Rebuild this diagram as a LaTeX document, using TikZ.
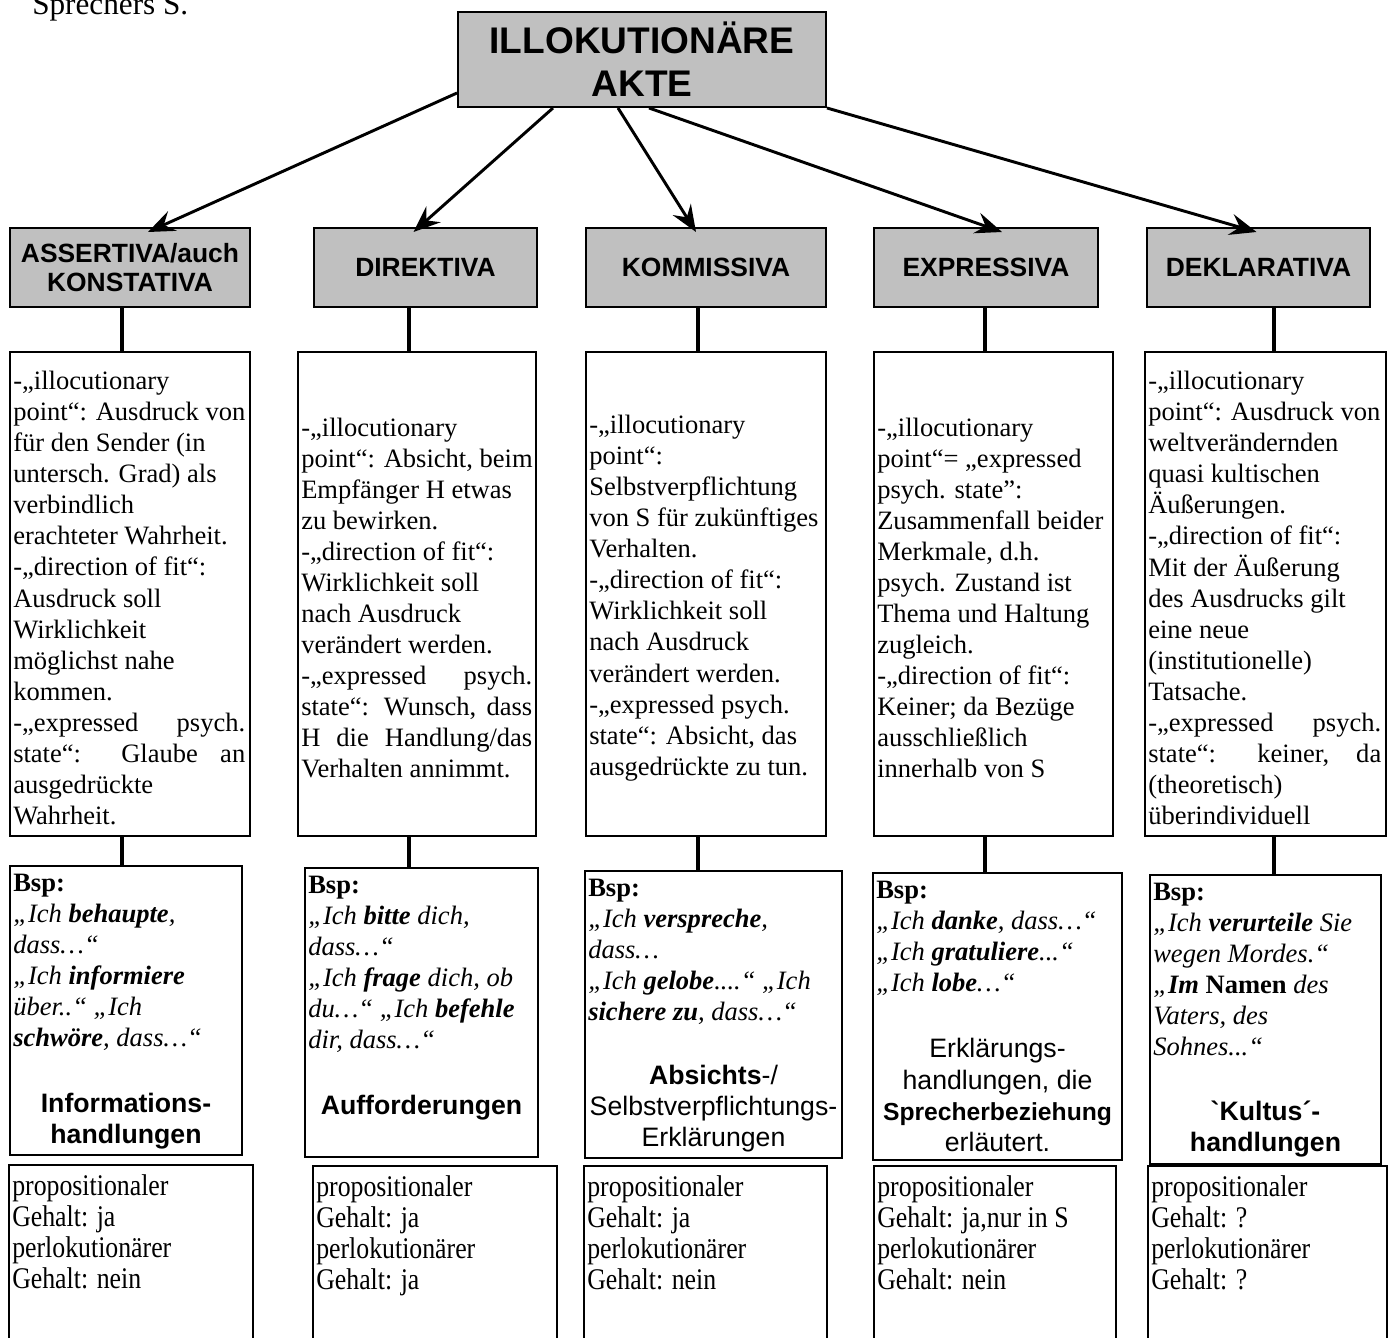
\documentclass[tikz,border=0pt]{standalone}
\usepackage{fontspec}
\setmainfont{Liberation Serif}
\newfontfamily\arial{Liberation Sans}
\newfontfamily\schmal[FakeStretch=0.86]{Liberation Serif}
\usetikzlibrary{arrows.meta,calc}
\definecolor{kastengrau}{RGB}{192,192,192}
\newcommand{\blocksatz}[2]{\makebox[#1][s]{#2}}

\begin{document}
\begin{tikzpicture}[x=0.75pt,y=-0.75pt,>={Stealth[length=20pt,width=16pt,inset=7pt]},line join=miter,
	kopf/.style={draw,line width=1.5pt,fill=kastengrau,align=center,inner sep=0pt,font=\arial\bfseries\fontsize{19.8}{21.8}\selectfont},
	feld/.style={draw,line width=1.5pt,fill=white,inner sep=0pt},
	fliess/.style={inner sep=0pt,align=left,font=\fontsize{19.9}{23.3}\selectfont},
	bsp/.style={inner sep=0pt,align=left,font=\fontsize{19.9}{23.3}\selectfont\itshape},
	gehalt/.style={inner sep=0pt,align=left,font=\schmal\fontsize{22.5}{23.3}\selectfont},
	typ/.style={inner sep=0pt,align=center,font=\arial\fontsize{20}{23.3}\selectfont},
	typfett/.style={typ,font=\arial\bfseries\fontsize{20}{23.3}\selectfont},
	pfeil/.style={->,line width=2.2pt},
	strich/.style={line width=2.4pt}]
	\useasboundingbox (0,0) rectangle (1396,1338);
	\clip (0,0) rectangle (1396,1338);
	\node[anchor=base west,inner sep=0pt,font=\fontsize{23.4}{28}\selectfont] (rest) at (32,15) {Sprechers S.};
	% Oberbegriff und Klassen
	\node[kopf,minimum width=276pt,minimum height=71.25pt,font=\arial\bfseries\fontsize{27.8}{32.3}\selectfont] (akte) at (642,59.5) {ILLOKUTIONÄRE\\AKTE};
	\node[kopf,minimum width=180pt,minimum height=59.25pt] (k1) at (130,267.5) {ASSERTIVA/auch\\KONSTATIVA};
	\node[kopf,minimum width=167.25pt,minimum height=59.25pt] (k2) at (425.5,267.5) {DIREKTIVA};
	\node[kopf,minimum width=180pt,minimum height=59.25pt] (k3) at (706,267.5) {KOMMISSIVA};
	\node[kopf,minimum width=168pt,minimum height=59.25pt] (k4) at (986,267.5) {EXPRESSIVA};
	\node[kopf,minimum width=167.25pt,minimum height=59.25pt] (k5) at (1258.5,267.5) {DEKLARATIVA};
	\draw[pfeil] ($(akte.west)+(0,33.5)$) -- ($(k1.north)+(18,5)$);
	\draw[pfeil] ($(akte.south)+(-89,0)$) -- ($(k2.north)+(-12,5)$);
	\draw[pfeil] ($(akte.south)+(-24,0)$) -- ($(k3.north)+(-10,5)$);
	\draw[pfeil] ($(akte.south)+(7,0)$) -- ($(k4.north)+(16,5)$);
	\draw[pfeil] (akte.south east) -- ($(k5.north)+(-2,5)$);
	% Merkmale
	\node[feld,minimum width=180pt,minimum height=363pt] (m1) at (130,594) {};
	\node[feld,minimum width=178.5pt,minimum height=363pt] (m2) at (417,594) {};
	\node[feld,minimum width=180pt,minimum height=363pt] (m3) at (706,594) {};
	\node[feld,minimum width=179.25pt,minimum height=363pt] (m4) at (993.5,594) {};
	\node[feld,minimum width=180.75pt,minimum height=363pt] (m5) at (1265.5,594) {};
	\node[fliess,anchor=west] (n1) at ($(m1.west)+(4,4)$) {-„illocutionary\\point“: Ausdruck von\\für den Sender (in\\untersch. Grad) als\\verbindlich\\erachteter Wahrheit.\\-„direction of fit“:\\Ausdruck soll\\Wirklichkeit\\möglichst nahe\\kommen.\\\blocksatz{174pt}{-„expressed psych.}\\\blocksatz{174pt}{state“: Glaube an}\\ausgedrückte\\Wahrheit.};
	\node[fliess,anchor=west] (n2) at ($(m2.west)+(4,4)$) {-„illocutionary\\point“: Absicht, beim\\Empfänger H etwas\\zu bewirken.\\-„direction of fit“:\\Wirklichkeit soll\\nach Ausdruck\\verändert werden.\\\blocksatz{173.25pt}{-„expressed psych.}\\\blocksatz{173.25pt}{state“: Wunsch, dass}\\\blocksatz{173.25pt}{H die Handlung/das}\\Verhalten annimmt.};
	\node[fliess,anchor=west] (n3) at ($(m3.west)+(4,4)$) {-„illocutionary\\point“:\\Selbstverpflichtung\\von S für zukünftiges\\Verhalten.\\-„direction of fit“:\\Wirklichkeit soll\\nach Ausdruck\\verändert werden.\\-„expressed psych.\\state“: Absicht, das\\ausgedrückte zu tun.};
	\node[fliess,anchor=west] (n4) at ($(m4.west)+(4,4)$) {-„illocutionary\\point“= „expressed\\psych. state”:\\Zusammenfall beider\\Merkmale, d.h.\\psych. Zustand ist\\Thema und Haltung\\zugleich.\\-„direction of fit“:\\Keiner; da Bezüge\\ausschließlich\\innerhalb von S};
	\node[fliess,anchor=west] (n5) at ($(m5.west)+(4,4)$) {-„illocutionary\\point“: Ausdruck von\\weltverändernden\\quasi kultischen\\Äußerungen.\\-„direction of fit“:\\Mit der Äußerung\\des Ausdrucks gilt\\eine neue\\(institutionelle)\\Tatsache.\\\blocksatz{174.75pt}{-„expressed psych.}\\\blocksatz{174.75pt}{state“: keiner, da}\\(theoretisch)\\überindividuell};
	% Beispiele
	\node[feld,minimum width=174pt,minimum height=216.75pt] (b1) at (126,1010.5) {};
	\node[feld,minimum width=174.75pt,minimum height=216.75pt] (b2) at (421.5,1012.5) {};
	\node[feld,minimum width=192.75pt,minimum height=215.25pt] (b3) at (713.5,1014.5) {};
	\node[feld,minimum width=186.75pt,minimum height=215.25pt] (b4) at (997.5,1016.5) {};
	\node[feld,minimum width=173.25pt,minimum height=216.75pt] (b5) at (1265.5,1019.5) {};
	\node[bsp,anchor=north west] (e1) at ($(b1.north west)+(4,9)$) {{\upshape\bfseries Bsp:}\\„Ich \textbf{behaupte},\\dass…“\\„Ich \textbf{informiere}\\über..“ „Ich\\\textbf{schwöre}, dass…“};
	\node[bsp,anchor=north west] (e2) at ($(b2.north west)+(4,9)$) {{\upshape\bfseries Bsp:}\\„Ich \textbf{bitte} dich,\\dass…“\\„Ich \textbf{frage} dich, ob\\du…“ „Ich \textbf{befehle}\\dir, dass…“};
	\node[bsp,anchor=north west] (e3) at ($(b3.north west)+(4,9)$) {{\upshape\bfseries Bsp:}\\„Ich \textbf{verspreche},\\dass…\\„Ich \textbf{gelobe}....“ „Ich\\\textbf{sichere zu}, dass…“};
	\node[bsp,anchor=north west] (e4) at ($(b4.north west)+(4,9)$) {{\upshape\bfseries Bsp:}\\„Ich \textbf{danke}, dass…“\\„Ich \textbf{gratuliere}...“\\„Ich \textbf{lobe}…“};
	\node[bsp,anchor=north west] (e5) at ($(b5.north west)+(4,9)$) {{\upshape\bfseries Bsp:}\\„Ich \textbf{verurteile} Sie\\wegen Mordes.“\\„\textbf{Im} {\upshape\bfseries Namen} des\\Vaters, des\\Sohnes...“};
	\node[typfett] (a1) at ($(b1.south)+(0,-35)$) {Informations-\\handlungen};
	\node[typfett] (a2) at ($(b2.south)+(0,-50)$) {Aufforderungen};
	\node[typ] (a3) at ($(b3.south)+(0,-50)$) {\textbf{Absichts}-/\\Selbstverpflichtungs-\\Erklärungen};
	\node[typ] (a4) at ($(b4.south)+(0,-66)$) {Erklärungs-\\handlungen, die\\{\bfseries\fontsize{18.5}{23.3}\selectfont Sprecherbeziehung}\\erläutert.};
	\node[typfett] (a5) at ($(b5.south)+(0,-36)$) {\textasciigrave Kultus´-\\handlungen};
	% Gehalt
	\node[feld,anchor=north west,minimum width=183pt,minimum height=150pt] (g1) at (8,1164) {};
	\node[feld,anchor=north west,minimum width=183pt,minimum height=150pt] (g2) at (312,1165) {};
	\node[feld,anchor=north west,minimum width=182.25pt,minimum height=150pt] (g3) at (583,1165) {};
	\node[feld,anchor=north west,minimum width=181.5pt,minimum height=150pt] (g4) at (873,1165) {};
	\node[feld,anchor=north west,minimum width=179.25pt,minimum height=150pt] (g5) at (1147,1165) {};
	\node[gehalt,anchor=north west] (h1) at ($(g1.north west)+(4,10)$) {propositionaler\\Gehalt: ja\\perlokutionärer\\Gehalt: nein};
	\node[gehalt,anchor=north west] (h2) at ($(g2.north west)+(4,10)$) {propositionaler\\Gehalt: ja\\perlokutionärer\\Gehalt: ja};
	\node[gehalt,anchor=north west] (h3) at ($(g3.north west)+(4,10)$) {propositionaler\\Gehalt: ja\\perlokutionärer\\Gehalt: nein};
	\node[gehalt,anchor=north west] (h4) at ($(g4.north west)+(4,10)$) {propositionaler\\Gehalt: ja,nur in S\\perlokutionärer\\Gehalt: nein};
	\node[gehalt,anchor=north west] (h5) at ($(g5.north west)+(4,10)$) {propositionaler\\Gehalt: ?\\perlokutionärer\\Gehalt: ?};
	\foreach \i/\x in {1/122,2/409,3/698,4/985,5/1274}{
		\draw[strich] (k\i.south -| \x,0) -- (m\i.north -| \x,0);
		\draw[strich] (m\i.south -| \x,0) -- (b\i.north -| \x,0);
	}
\end{tikzpicture}
\end{document}
